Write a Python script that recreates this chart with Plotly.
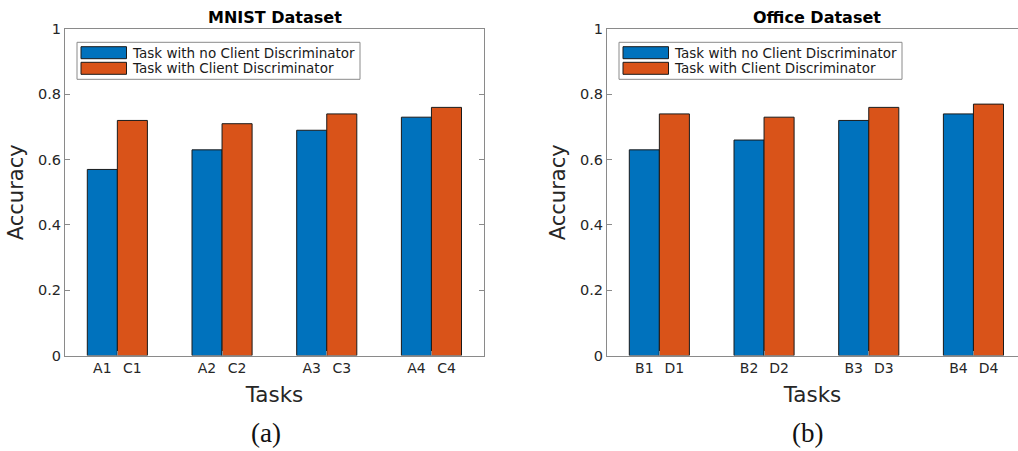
import plotly.graph_objects as go

# ---- data ----
groups = [1, 2, 3, 4]
mnist_no_cd = [0.57, 0.63, 0.69, 0.73]
mnist_cd = [0.72, 0.71, 0.74, 0.76]
mnist_labels_no = ["A1", "A2", "A3", "A4"]
mnist_labels_cd = ["C1", "C2", "C3", "C4"]
office_no_cd = [0.63, 0.66, 0.72, 0.74]
office_cd = [0.74, 0.73, 0.76, 0.77]
office_labels_no = ["B1", "B2", "B3", "B4"]
office_labels_cd = ["D1", "D2", "D3", "D4"]
series_names = ["Task with no Client Discriminator", "Task with Client Discriminator"]
titles = ["MNIST Dataset", "Office Dataset"]
captions = ["(a)", "(b)"]
yticks = [0, 0.2, 0.4, 0.6, 0.8, 1]
ytick_text = ["0", "0.2", "0.4", "0.6", "0.8", "1"]

# ---- style ----
W, H = 1018, 451
BLUE = "#0072BD"
ORANGE = "#D95319"
AX = "#262626"
LINE = "#8a8a8a"
FONT = "DejaVu Sans"
bargap = 0.426
half = (1 - bargap) / 4  # offset of bar centre from group centre

ax_px = [(65, 484), (607, 1018)]
y_px = (29, 355.6)
unit_px = 104.7
xranges = []
for (l, r) in ax_px:
    lo = 0.5
    hi = lo + (r - l) / unit_px
    xranges.append([lo, hi])


def px_x(p):
    return p / W


def px_y(p):
    return 1 - p / H


fig = go.Figure()
data_sets = [
    (mnist_no_cd, mnist_cd, mnist_labels_no, mnist_labels_cd),
    (office_no_cd, office_cd, office_labels_no, office_labels_cd),
]

for i, (a, b, la, lb) in enumerate(data_sets):
    xa = "x" if i == 0 else "x2"
    ya = "y" if i == 0 else "y2"
    fig.add_trace(go.Bar(x=groups, y=a, name=series_names[0], marker=dict(color=BLUE, line=dict(color="#1a1a1a", width=1)),
                         xaxis=xa, yaxis=ya, showlegend=False, offsetgroup="a"))
    fig.add_trace(go.Bar(x=groups, y=b, name=series_names[1], marker=dict(color=ORANGE, line=dict(color="#1a1a1a", width=1)),
                         xaxis=xa, yaxis=ya, showlegend=False, offsetgroup="b"))

layout = dict(
    width=W, height=H,
    margin=dict(l=0, r=0, t=0, b=0, autoexpand=False),
    paper_bgcolor="white", plot_bgcolor="white",
    barmode="group", bargap=bargap, bargroupgap=0,
    font=dict(family=FONT, color=AX),
    showlegend=False,
)

shapes = []
annotations = []
for i in range(2):
    sfx = "" if i == 0 else "2"
    l, r = ax_px[i]
    dom = [px_x(l), min(1.0, px_x(r))]
    ydom = [px_y(y_px[1]), px_y(y_px[0])]
    tickvals = []
    ticktext = []
    la = data_sets[i][2]
    lb = data_sets[i][3]
    for g, a_lab, b_lab in zip(groups, la, lb):
        tickvals += [g - half, g + half]
        ticktext += [a_lab, b_lab]
    layout["xaxis" + sfx] = dict(
        domain=dom, range=xranges[i], anchor="y" + sfx, automargin=False,
        tickvals=tickvals, ticktext=ticktext, ticks="", ticklen=0,
        tickfont=dict(size=14, family=FONT, color=AX),
        showline=True, linecolor=LINE, linewidth=1, mirror=True,
        showgrid=False, zeroline=False,
        minor=dict(tickmode="array", tickvals=groups, ticks="inside", ticklen=5, tickcolor=LINE, tickwidth=1, showgrid=False),
        title=dict(text="Tasks", font=dict(size=21.5, family=FONT, color=AX), standoff=11),
        fixedrange=True,
    )
    layout["yaxis" + sfx] = dict(
        domain=ydom, range=[0, 1], anchor="x" + sfx, automargin=False,
        tickvals=yticks, ticktext=ytick_text, ticks="inside", ticklen=5, tickcolor=LINE,
        tickfont=dict(size=14.5, family=FONT, color=AX),
        showline=True, linecolor=LINE, linewidth=1, mirror=("ticks" if i == 0 else False),
        showgrid=False, zeroline=False,
        title=dict(text="Accuracy", font=dict(size=21, family=FONT, color=AX), standoff=8),
        fixedrange=True,
    )
    axw = r - l
    axh = y_px[1] - y_px[0]
    xd = "x%s domain" % sfx
    yd = "y%s domain" % sfx

    def fx(px):
        return px / axw

    def fy(py):
        return 1 - py / axh

    # legend box (offsets in px from axis top-left)
    shapes.append(dict(type="rect", xref=xd, yref=yd, x0=fx(12), x1=fx(295), y0=fy(13.3), y1=fy(50.3),
                       line=dict(color=LINE, width=1), fillcolor="white", layer="above"))
    for k, (col, name) in enumerate(zip([BLUE, ORANGE], series_names)):
        top = 17.7 + k * 15.6
        shapes.append(dict(type="rect", xref=xd, yref=yd, x0=fx(16), x1=fx(61.5), y0=fy(top), y1=fy(top + 12),
                           line=dict(color="#1a1a1a", width=1), fillcolor=col, layer="above"))
        annotations.append(dict(xref=xd, yref=yd, x=fx(64.5), y=fy(top + 6), text=name, showarrow=False,
                                xanchor="left", yanchor="middle", font=dict(size=13.5, family=FONT, color="#1a1a1a")))
    # title
    cx = (l + 419 / 2)
    annotations.append(dict(xref="paper", yref="paper", x=px_x(cx), y=px_y(17), text="<b>%s</b>" % titles[i],
                            showarrow=False, xanchor="center", yanchor="middle",
                            font=dict(size=16, family=FONT, color="#000000")))
    # caption
    annotations.append(dict(xref="paper", yref="paper", x=px_x(cx - 9), y=px_y(433), text=captions[i],
                            showarrow=False, xanchor="center", yanchor="middle",
                            font=dict(size=27, family="Liberation Serif", color="#111111")))

layout["shapes"] = shapes
layout["annotations"] = annotations
fig.update_layout(**layout)
fig.write_html(
    "out.html",
    config={"displayModeBar": False},
    post_script="document.body.style.margin='0';document.body.style.overflow='hidden';",
)
